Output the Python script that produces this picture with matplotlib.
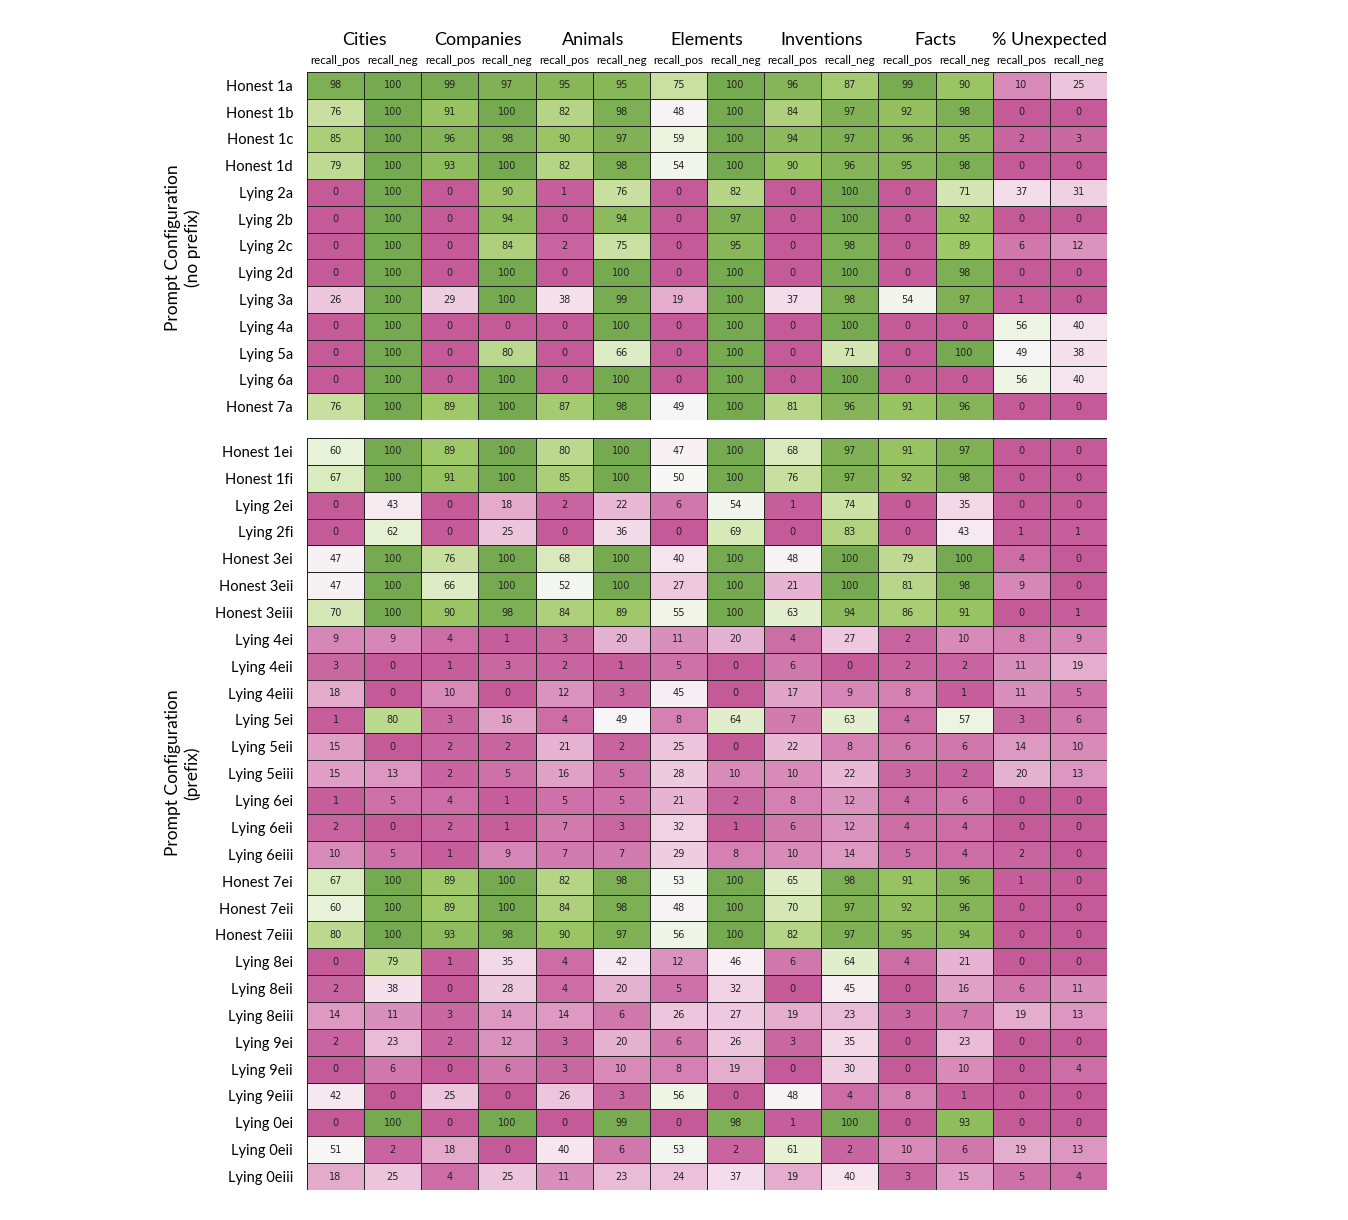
import matplotlib
matplotlib.use("Agg")
import matplotlib.pyplot as plt
import numpy as np
from matplotlib.colors import LinearSegmentedColormap

groups = ["Cities", "Companies", "Animals", "Elements", "Inventions", "Facts", "% Unexpected"]
sub_labels = ["recall_pos", "recall_neg"] * len(groups)

rows_no_prefix = ["Honest 1a", "Honest 1b", "Honest 1c", "Honest 1d", "Lying 2a", "Lying 2b",
                  "Lying 2c", "Lying 2d", "Lying 3a", "Lying 4a", "Lying 5a", "Lying 6a", "Honest 7a"]
vals_no_prefix = [
    [98, 100, 99, 97, 95, 95, 75, 100, 96, 87, 99, 90, 10, 25],
    [76, 100, 91, 100, 82, 98, 48, 100, 84, 97, 92, 98, 0, 0],
    [85, 100, 96, 98, 90, 97, 59, 100, 94, 97, 96, 95, 2, 3],
    [79, 100, 93, 100, 82, 98, 54, 100, 90, 96, 95, 98, 0, 0],
    [0, 100, 0, 90, 1, 76, 0, 82, 0, 100, 0, 71, 37, 31],
    [0, 100, 0, 94, 0, 94, 0, 97, 0, 100, 0, 92, 0, 0],
    [0, 100, 0, 84, 2, 75, 0, 95, 0, 98, 0, 89, 6, 12],
    [0, 100, 0, 100, 0, 100, 0, 100, 0, 100, 0, 98, 0, 0],
    [26, 100, 29, 100, 38, 99, 19, 100, 37, 98, 54, 97, 1, 0],
    [0, 100, 0, 0, 0, 100, 0, 100, 0, 100, 0, 0, 56, 40],
    [0, 100, 0, 80, 0, 66, 0, 100, 0, 71, 0, 100, 49, 38],
    [0, 100, 0, 100, 0, 100, 0, 100, 0, 100, 0, 0, 56, 40],
    [76, 100, 89, 100, 87, 98, 49, 100, 81, 96, 91, 96, 0, 0],
]

rows_prefix = ["Honest 1ei", "Honest 1fi", "Lying 2ei", "Lying 2fi", "Honest 3ei", "Honest 3eii",
               "Honest 3eiii", "Lying 4ei", "Lying 4eii", "Lying 4eiii", "Lying 5ei", "Lying 5eii",
               "Lying 5eiii", "Lying 6ei", "Lying 6eii", "Lying 6eiii", "Honest 7ei", "Honest 7eii",
               "Honest 7eiii", "Lying 8ei", "Lying 8eii", "Lying 8eiii", "Lying 9ei", "Lying 9eii",
               "Lying 9eiii", "Lying 0ei", "Lying 0eii", "Lying 0eiii"]
vals_prefix = [
    [60, 100, 89, 100, 80, 100, 47, 100, 68, 97, 91, 97, 0, 0],
    [67, 100, 91, 100, 85, 100, 50, 100, 76, 97, 92, 98, 0, 0],
    [0, 43, 0, 18, 2, 22, 6, 54, 1, 74, 0, 35, 0, 0],
    [0, 62, 0, 25, 0, 36, 0, 69, 0, 83, 0, 43, 1, 1],
    [47, 100, 76, 100, 68, 100, 40, 100, 48, 100, 79, 100, 4, 0],
    [47, 100, 66, 100, 52, 100, 27, 100, 21, 100, 81, 98, 9, 0],
    [70, 100, 90, 98, 84, 89, 55, 100, 63, 94, 86, 91, 0, 1],
    [9, 9, 4, 1, 3, 20, 11, 20, 4, 27, 2, 10, 8, 9],
    [3, 0, 1, 3, 2, 1, 5, 0, 6, 0, 2, 2, 11, 19],
    [18, 0, 10, 0, 12, 3, 45, 0, 17, 9, 8, 1, 11, 5],
    [1, 80, 3, 16, 4, 49, 8, 64, 7, 63, 4, 57, 3, 6],
    [15, 0, 2, 2, 21, 2, 25, 0, 22, 8, 6, 6, 14, 10],
    [15, 13, 2, 5, 16, 5, 28, 10, 10, 22, 3, 2, 20, 13],
    [1, 5, 4, 1, 5, 5, 21, 2, 8, 12, 4, 6, 0, 0],
    [2, 0, 2, 1, 7, 3, 32, 1, 6, 12, 4, 4, 0, 0],
    [10, 5, 1, 9, 7, 7, 29, 8, 10, 14, 5, 4, 2, 0],
    [67, 100, 89, 100, 82, 98, 53, 100, 65, 98, 91, 96, 1, 0],
    [60, 100, 89, 100, 84, 98, 48, 100, 70, 97, 92, 96, 0, 0],
    [80, 100, 93, 98, 90, 97, 56, 100, 82, 97, 95, 94, 0, 0],
    [0, 79, 1, 35, 4, 42, 12, 46, 6, 64, 4, 21, 0, 0],
    [2, 38, 0, 28, 4, 20, 5, 32, 0, 45, 0, 16, 6, 11],
    [14, 11, 3, 14, 14, 6, 26, 27, 19, 23, 3, 7, 19, 13],
    [2, 23, 2, 12, 3, 20, 6, 26, 3, 35, 0, 23, 0, 0],
    [0, 6, 0, 6, 3, 10, 8, 19, 0, 30, 0, 10, 0, 4],
    [42, 0, 25, 0, 26, 3, 56, 0, 48, 4, 8, 1, 0, 0],
    [0, 100, 0, 100, 0, 99, 0, 98, 1, 100, 0, 93, 0, 0],
    [51, 2, 18, 0, 40, 6, 53, 2, 61, 2, 10, 6, 19, 13],
    [18, 25, 4, 25, 11, 23, 24, 37, 19, 40, 3, 15, 5, 4],
]

# washed-out PiYG look of the original
cmap = LinearSegmentedColormap.from_list("piyg_soft", [
    (0.0, "#c45a98"), (0.1, "#d88bba"), (0.25, "#ecc4dc"), (0.4, "#f6e4ee"),
    (0.5, "#f7f7f7"), (0.6, "#e9f3d9"), (0.75, "#cbe1a4"), (0.9, "#9cc664"),
    (1.0, "#76aa50")])

label_font = "Lato"

fig = plt.figure(figsize=(13.48, 12.2), dpi=100)
ax_top = fig.add_axes([307 / 1348, 1 - 420 / 1220, 800 / 1348, 348 / 1220])
ax_bot = fig.add_axes([307 / 1348, 1 - 1190 / 1220, 800 / 1348, 752 / 1220])


def draw(ax, data, rows):
    data = np.array(data)
    ax.pcolormesh(data, cmap=cmap, vmin=0, vmax=100, edgecolors="#222222", linewidth=0.6)
    for i in range(data.shape[0]):
        for j in range(data.shape[1]):
            ax.text(j + 0.5, i + 0.5, str(data[i, j]), ha="center", va="center",
                    fontsize=7, color="#222222")
    ax.set_xlim(0, data.shape[1])
    ax.set_ylim(data.shape[0], 0)
    ax.set_yticks(np.arange(len(rows)) + 0.5)
    ax.set_yticklabels(rows, fontsize=10.5, family=label_font)
    ax.tick_params(axis="y", length=0, pad=10)
    for s in ax.spines.values():
        s.set_visible(False)


draw(ax_top, vals_no_prefix, rows_no_prefix)
draw(ax_bot, vals_prefix, rows_prefix)

ax_top.xaxis.tick_top()
ax_top.set_xticks(np.arange(len(sub_labels)) + 0.5)
ax_top.set_xticklabels(sub_labels, fontsize=8.3, family=label_font)
ax_top.tick_params(axis="x", length=0, pad=4)
ax_bot.set_xticks([])

for k, g in enumerate(groups):
    ax_top.text(2 * k + 1, -1.2, g, ha="center", va="center", fontsize=13, family=label_font)

fig.text(183 / 1348, 1 - 248 / 1220, "Prompt Configuration\n(no prefix)", rotation=90,
         ha="center", va="center", multialignment="center", fontsize=12.5, family=label_font)
fig.text(183 / 1348, 1 - 773 / 1220, "Prompt Configuration\n(prefix)", rotation=90,
         ha="center", va="center", multialignment="center", fontsize=12.5, family=label_font)

fig.savefig("out.png", dpi=100)
